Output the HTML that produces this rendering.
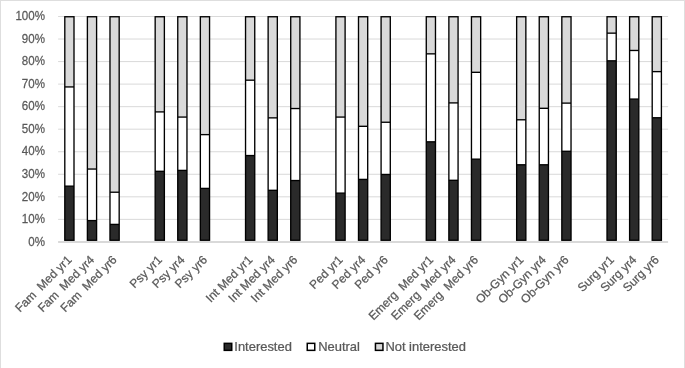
<!DOCTYPE html>
<html><head><meta charset="utf-8"><style>
html,body{margin:0;padding:0;background:#fff;}
svg{display:block;will-change:transform;}
text{font-family:"Liberation Sans",sans-serif;font-size:12.5px;fill:#595959;stroke:#595959;stroke-width:0.25px;}
.xl{font-size:12px;}
.yl{font-size:13px;}
.lg{font-size:12.5px;}
</style></head><body>
<svg width="685" height="368" viewBox="0 0 685 368">
<rect x="0" y="0" width="685" height="368" fill="#fff"/>
<rect x="0.5" y="0.5" width="684" height="370" fill="none" stroke="#dedede" stroke-width="1"/>
<line x1="58.1" x2="668.1" y1="219.36" y2="219.36" stroke="#d9d9d9" stroke-width="1"/><line x1="58.1" x2="668.1" y1="196.82" y2="196.82" stroke="#d9d9d9" stroke-width="1"/><line x1="58.1" x2="668.1" y1="174.28" y2="174.28" stroke="#d9d9d9" stroke-width="1"/><line x1="58.1" x2="668.1" y1="151.74" y2="151.74" stroke="#d9d9d9" stroke-width="1"/><line x1="58.1" x2="668.1" y1="129.20" y2="129.20" stroke="#d9d9d9" stroke-width="1"/><line x1="58.1" x2="668.1" y1="106.66" y2="106.66" stroke="#d9d9d9" stroke-width="1"/><line x1="58.1" x2="668.1" y1="84.12" y2="84.12" stroke="#d9d9d9" stroke-width="1"/><line x1="58.1" x2="668.1" y1="61.58" y2="61.58" stroke="#d9d9d9" stroke-width="1"/><line x1="58.1" x2="668.1" y1="39.04" y2="39.04" stroke="#d9d9d9" stroke-width="1"/><line x1="58.1" x2="668.1" y1="16.50" y2="16.50" stroke="#d9d9d9" stroke-width="1"/>
<line x1="58.1" x2="668.1" y1="242" y2="242" stroke="#d9d9d9" stroke-width="2"/>
<rect x="64.80" y="16.75" width="9.2" height="70.18" fill="#d9d9d9"/><rect x="64.80" y="86.93" width="9.2" height="99.22" fill="#ffffff"/><rect x="64.80" y="186.15" width="9.2" height="54.10" fill="#2a2a2a"/><rect x="64.80" y="16.75" width="9.2" height="223.50" fill="none" stroke="#000" stroke-width="1.35"/><line x1="64.80" x2="74.00" y1="86.93" y2="86.93" stroke="#000" stroke-width="1.35"/><line x1="64.80" x2="74.00" y1="186.15" y2="186.15" stroke="#000" stroke-width="1.35"/><rect x="87.39" y="16.75" width="9.2" height="152.30" fill="#d9d9d9"/><rect x="87.39" y="169.05" width="9.2" height="51.52" fill="#ffffff"/><rect x="87.39" y="220.57" width="9.2" height="19.68" fill="#2a2a2a"/><rect x="87.39" y="16.75" width="9.2" height="223.50" fill="none" stroke="#000" stroke-width="1.35"/><line x1="87.39" x2="96.59" y1="169.05" y2="169.05" stroke="#000" stroke-width="1.35"/><line x1="87.39" x2="96.59" y1="220.57" y2="220.57" stroke="#000" stroke-width="1.35"/><rect x="109.98" y="16.75" width="9.2" height="175.47" fill="#d9d9d9"/><rect x="109.98" y="192.22" width="9.2" height="32.18" fill="#ffffff"/><rect x="109.98" y="224.40" width="9.2" height="15.85" fill="#2a2a2a"/><rect x="109.98" y="16.75" width="9.2" height="223.50" fill="none" stroke="#000" stroke-width="1.35"/><line x1="109.98" x2="119.18" y1="192.22" y2="192.22" stroke="#000" stroke-width="1.35"/><line x1="109.98" x2="119.18" y1="224.40" y2="224.40" stroke="#000" stroke-width="1.35"/><rect x="155.17" y="16.75" width="9.2" height="95.15" fill="#d9d9d9"/><rect x="155.17" y="111.90" width="9.2" height="59.40" fill="#ffffff"/><rect x="155.17" y="171.30" width="9.2" height="68.95" fill="#2a2a2a"/><rect x="155.17" y="16.75" width="9.2" height="223.50" fill="none" stroke="#000" stroke-width="1.35"/><line x1="155.17" x2="164.37" y1="111.90" y2="111.90" stroke="#000" stroke-width="1.35"/><line x1="155.17" x2="164.37" y1="171.30" y2="171.30" stroke="#000" stroke-width="1.35"/><rect x="177.76" y="16.75" width="9.2" height="100.33" fill="#d9d9d9"/><rect x="177.76" y="117.08" width="9.2" height="53.33" fill="#ffffff"/><rect x="177.76" y="170.40" width="9.2" height="69.85" fill="#2a2a2a"/><rect x="177.76" y="16.75" width="9.2" height="223.50" fill="none" stroke="#000" stroke-width="1.35"/><line x1="177.76" x2="186.96" y1="117.08" y2="117.08" stroke="#000" stroke-width="1.35"/><line x1="177.76" x2="186.96" y1="170.40" y2="170.40" stroke="#000" stroke-width="1.35"/><rect x="200.35" y="16.75" width="9.2" height="117.88" fill="#d9d9d9"/><rect x="200.35" y="134.62" width="9.2" height="53.78" fill="#ffffff"/><rect x="200.35" y="188.40" width="9.2" height="51.85" fill="#2a2a2a"/><rect x="200.35" y="16.75" width="9.2" height="223.50" fill="none" stroke="#000" stroke-width="1.35"/><line x1="200.35" x2="209.55" y1="134.62" y2="134.62" stroke="#000" stroke-width="1.35"/><line x1="200.35" x2="209.55" y1="188.40" y2="188.40" stroke="#000" stroke-width="1.35"/><rect x="245.54" y="16.75" width="9.2" height="63.43" fill="#d9d9d9"/><rect x="245.54" y="80.18" width="9.2" height="75.38" fill="#ffffff"/><rect x="245.54" y="155.55" width="9.2" height="84.70" fill="#2a2a2a"/><rect x="245.54" y="16.75" width="9.2" height="223.50" fill="none" stroke="#000" stroke-width="1.35"/><line x1="245.54" x2="254.74" y1="80.18" y2="80.18" stroke="#000" stroke-width="1.35"/><line x1="245.54" x2="254.74" y1="155.55" y2="155.55" stroke="#000" stroke-width="1.35"/><rect x="268.13" y="16.75" width="9.2" height="101.11" fill="#d9d9d9"/><rect x="268.13" y="117.86" width="9.2" height="72.45" fill="#ffffff"/><rect x="268.13" y="190.31" width="9.2" height="49.94" fill="#2a2a2a"/><rect x="268.13" y="16.75" width="9.2" height="223.50" fill="none" stroke="#000" stroke-width="1.35"/><line x1="268.13" x2="277.33" y1="117.86" y2="117.86" stroke="#000" stroke-width="1.35"/><line x1="268.13" x2="277.33" y1="190.31" y2="190.31" stroke="#000" stroke-width="1.35"/><rect x="290.72" y="16.75" width="9.2" height="91.78" fill="#d9d9d9"/><rect x="290.72" y="108.53" width="9.2" height="72.00" fill="#ffffff"/><rect x="290.72" y="180.53" width="9.2" height="59.72" fill="#2a2a2a"/><rect x="290.72" y="16.75" width="9.2" height="223.50" fill="none" stroke="#000" stroke-width="1.35"/><line x1="290.72" x2="299.92" y1="108.53" y2="108.53" stroke="#000" stroke-width="1.35"/><line x1="290.72" x2="299.92" y1="180.53" y2="180.53" stroke="#000" stroke-width="1.35"/><rect x="335.91" y="16.75" width="9.2" height="100.33" fill="#d9d9d9"/><rect x="335.91" y="117.08" width="9.2" height="76.05" fill="#ffffff"/><rect x="335.91" y="193.12" width="9.2" height="47.12" fill="#2a2a2a"/><rect x="335.91" y="16.75" width="9.2" height="223.50" fill="none" stroke="#000" stroke-width="1.35"/><line x1="335.91" x2="345.11" y1="117.08" y2="117.08" stroke="#000" stroke-width="1.35"/><line x1="335.91" x2="345.11" y1="193.12" y2="193.12" stroke="#000" stroke-width="1.35"/><rect x="358.50" y="16.75" width="9.2" height="109.55" fill="#d9d9d9"/><rect x="358.50" y="126.30" width="9.2" height="53.10" fill="#ffffff"/><rect x="358.50" y="179.40" width="9.2" height="60.85" fill="#2a2a2a"/><rect x="358.50" y="16.75" width="9.2" height="223.50" fill="none" stroke="#000" stroke-width="1.35"/><line x1="358.50" x2="367.70" y1="126.30" y2="126.30" stroke="#000" stroke-width="1.35"/><line x1="358.50" x2="367.70" y1="179.40" y2="179.40" stroke="#000" stroke-width="1.35"/><rect x="381.09" y="16.75" width="9.2" height="105.50" fill="#d9d9d9"/><rect x="381.09" y="122.25" width="9.2" height="52.20" fill="#ffffff"/><rect x="381.09" y="174.45" width="9.2" height="65.80" fill="#2a2a2a"/><rect x="381.09" y="16.75" width="9.2" height="223.50" fill="none" stroke="#000" stroke-width="1.35"/><line x1="381.09" x2="390.29" y1="122.25" y2="122.25" stroke="#000" stroke-width="1.35"/><line x1="381.09" x2="390.29" y1="174.45" y2="174.45" stroke="#000" stroke-width="1.35"/><rect x="426.28" y="16.75" width="9.2" height="37.10" fill="#d9d9d9"/><rect x="426.28" y="53.85" width="9.2" height="87.97" fill="#ffffff"/><rect x="426.28" y="141.82" width="9.2" height="98.43" fill="#2a2a2a"/><rect x="426.28" y="16.75" width="9.2" height="223.50" fill="none" stroke="#000" stroke-width="1.35"/><line x1="426.28" x2="435.48" y1="53.85" y2="53.85" stroke="#000" stroke-width="1.35"/><line x1="426.28" x2="435.48" y1="141.82" y2="141.82" stroke="#000" stroke-width="1.35"/><rect x="448.87" y="16.75" width="9.2" height="86.15" fill="#d9d9d9"/><rect x="448.87" y="102.90" width="9.2" height="77.40" fill="#ffffff"/><rect x="448.87" y="180.30" width="9.2" height="59.95" fill="#2a2a2a"/><rect x="448.87" y="16.75" width="9.2" height="223.50" fill="none" stroke="#000" stroke-width="1.35"/><line x1="448.87" x2="458.07" y1="102.90" y2="102.90" stroke="#000" stroke-width="1.35"/><line x1="448.87" x2="458.07" y1="180.30" y2="180.30" stroke="#000" stroke-width="1.35"/><rect x="471.46" y="16.75" width="9.2" height="55.55" fill="#d9d9d9"/><rect x="471.46" y="72.30" width="9.2" height="86.85" fill="#ffffff"/><rect x="471.46" y="159.15" width="9.2" height="81.10" fill="#2a2a2a"/><rect x="471.46" y="16.75" width="9.2" height="223.50" fill="none" stroke="#000" stroke-width="1.35"/><line x1="471.46" x2="480.66" y1="72.30" y2="72.30" stroke="#000" stroke-width="1.35"/><line x1="471.46" x2="480.66" y1="159.15" y2="159.15" stroke="#000" stroke-width="1.35"/><rect x="516.65" y="16.75" width="9.2" height="103.03" fill="#d9d9d9"/><rect x="516.65" y="119.78" width="9.2" height="45.00" fill="#ffffff"/><rect x="516.65" y="164.78" width="9.2" height="75.47" fill="#2a2a2a"/><rect x="516.65" y="16.75" width="9.2" height="223.50" fill="none" stroke="#000" stroke-width="1.35"/><line x1="516.65" x2="525.85" y1="119.78" y2="119.78" stroke="#000" stroke-width="1.35"/><line x1="516.65" x2="525.85" y1="164.78" y2="164.78" stroke="#000" stroke-width="1.35"/><rect x="539.24" y="16.75" width="9.2" height="91.55" fill="#d9d9d9"/><rect x="539.24" y="108.30" width="9.2" height="56.47" fill="#ffffff"/><rect x="539.24" y="164.78" width="9.2" height="75.47" fill="#2a2a2a"/><rect x="539.24" y="16.75" width="9.2" height="223.50" fill="none" stroke="#000" stroke-width="1.35"/><line x1="539.24" x2="548.44" y1="108.30" y2="108.30" stroke="#000" stroke-width="1.35"/><line x1="539.24" x2="548.44" y1="164.78" y2="164.78" stroke="#000" stroke-width="1.35"/><rect x="561.83" y="16.75" width="9.2" height="86.38" fill="#d9d9d9"/><rect x="561.83" y="103.12" width="9.2" height="48.15" fill="#ffffff"/><rect x="561.83" y="151.28" width="9.2" height="88.97" fill="#2a2a2a"/><rect x="561.83" y="16.75" width="9.2" height="223.50" fill="none" stroke="#000" stroke-width="1.35"/><line x1="561.83" x2="571.03" y1="103.12" y2="103.12" stroke="#000" stroke-width="1.35"/><line x1="561.83" x2="571.03" y1="151.28" y2="151.28" stroke="#000" stroke-width="1.35"/><rect x="607.02" y="16.75" width="9.2" height="16.40" fill="#d9d9d9"/><rect x="607.02" y="33.15" width="9.2" height="27.67" fill="#ffffff"/><rect x="607.02" y="60.82" width="9.2" height="179.43" fill="#2a2a2a"/><rect x="607.02" y="16.75" width="9.2" height="223.50" fill="none" stroke="#000" stroke-width="1.35"/><line x1="607.02" x2="616.22" y1="33.15" y2="33.15" stroke="#000" stroke-width="1.35"/><line x1="607.02" x2="616.22" y1="60.82" y2="60.82" stroke="#000" stroke-width="1.35"/><rect x="629.61" y="16.75" width="9.2" height="33.72" fill="#d9d9d9"/><rect x="629.61" y="50.47" width="9.2" height="48.60" fill="#ffffff"/><rect x="629.61" y="99.07" width="9.2" height="141.18" fill="#2a2a2a"/><rect x="629.61" y="16.75" width="9.2" height="223.50" fill="none" stroke="#000" stroke-width="1.35"/><line x1="629.61" x2="638.81" y1="50.47" y2="50.47" stroke="#000" stroke-width="1.35"/><line x1="629.61" x2="638.81" y1="99.07" y2="99.07" stroke="#000" stroke-width="1.35"/><rect x="652.20" y="16.75" width="9.2" height="54.88" fill="#d9d9d9"/><rect x="652.20" y="71.62" width="9.2" height="46.12" fill="#ffffff"/><rect x="652.20" y="117.75" width="9.2" height="122.50" fill="#2a2a2a"/><rect x="652.20" y="16.75" width="9.2" height="223.50" fill="none" stroke="#000" stroke-width="1.35"/><line x1="652.20" x2="661.40" y1="71.62" y2="71.62" stroke="#000" stroke-width="1.35"/><line x1="652.20" x2="661.40" y1="117.75" y2="117.75" stroke="#000" stroke-width="1.35"/>
<text transform="translate(45,245.60) scale(0.89,1)" text-anchor="end" class="yl">0%</text><text transform="translate(45,223.06) scale(0.89,1)" text-anchor="end" class="yl">10%</text><text transform="translate(45,200.52) scale(0.89,1)" text-anchor="end" class="yl">20%</text><text transform="translate(45,177.98) scale(0.89,1)" text-anchor="end" class="yl">30%</text><text transform="translate(45,155.44) scale(0.89,1)" text-anchor="end" class="yl">40%</text><text transform="translate(45,132.90) scale(0.89,1)" text-anchor="end" class="yl">50%</text><text transform="translate(45,110.36) scale(0.89,1)" text-anchor="end" class="yl">60%</text><text transform="translate(45,87.82) scale(0.89,1)" text-anchor="end" class="yl">70%</text><text transform="translate(45,65.28) scale(0.89,1)" text-anchor="end" class="yl">80%</text><text transform="translate(45,42.74) scale(0.89,1)" text-anchor="end" class="yl">90%</text><text transform="translate(45,20.20) scale(0.89,1)" text-anchor="end" class="yl">100%</text>
<text transform="translate(72.40,260.50) rotate(-45)" text-anchor="end" class="xl">Fam&#160; Med yr1</text><text transform="translate(94.99,260.50) rotate(-45)" text-anchor="end" class="xl">Fam&#160; Med yr4</text><text transform="translate(117.58,260.50) rotate(-45)" text-anchor="end" class="xl">Fam&#160; Med yr6</text><text transform="translate(162.77,260.50) rotate(-45)" text-anchor="end" class="xl">Psy yr1</text><text transform="translate(185.36,260.50) rotate(-45)" text-anchor="end" class="xl">Psy yr4</text><text transform="translate(207.95,260.50) rotate(-45)" text-anchor="end" class="xl">Psy yr6</text><text transform="translate(253.14,260.50) rotate(-45)" text-anchor="end" class="xl">Int Med yr1</text><text transform="translate(275.73,260.50) rotate(-45)" text-anchor="end" class="xl">Int Med yr4</text><text transform="translate(298.32,260.50) rotate(-45)" text-anchor="end" class="xl">Int Med yr6</text><text transform="translate(343.51,260.50) rotate(-45)" text-anchor="end" class="xl">Ped yr1</text><text transform="translate(366.10,260.50) rotate(-45)" text-anchor="end" class="xl">Ped yr4</text><text transform="translate(388.69,260.50) rotate(-45)" text-anchor="end" class="xl">Ped yr6</text><text transform="translate(433.88,260.50) rotate(-45)" text-anchor="end" class="xl">Emerg&#160; Med yr1</text><text transform="translate(456.47,260.50) rotate(-45)" text-anchor="end" class="xl">Emerg&#160; Med yr4</text><text transform="translate(479.06,260.50) rotate(-45)" text-anchor="end" class="xl">Emerg&#160; Med yr6</text><text transform="translate(524.25,260.50) rotate(-45)" text-anchor="end" class="xl">Ob-Gyn yr1</text><text transform="translate(546.84,260.50) rotate(-45)" text-anchor="end" class="xl">Ob-Gyn yr4</text><text transform="translate(569.43,260.50) rotate(-45)" text-anchor="end" class="xl">Ob-Gyn yr6</text><text transform="translate(614.62,260.50) rotate(-45)" text-anchor="end" class="xl">Surg yr1</text><text transform="translate(637.21,260.50) rotate(-45)" text-anchor="end" class="xl">Surg yr4</text><text transform="translate(659.80,260.50) rotate(-45)" text-anchor="end" class="xl">Surg yr6</text>

<rect x="224.25" y="343.35" width="7.5" height="7" fill="#2a2a2a" stroke="#000" stroke-width="1.5"/>
<text transform="translate(234.3,350.6) scale(1.035,1)" class="lg">Interested</text>
<rect x="307.25" y="343.35" width="7.5" height="7" fill="#fff" stroke="#000" stroke-width="1.5"/>
<text transform="translate(318.2,350.6) scale(1.035,1)" class="lg">Neutral</text>
<rect x="375.45" y="343.35" width="7.5" height="7" fill="#d9d9d9" stroke="#000" stroke-width="1.5"/>
<text transform="translate(385.4,350.6) scale(1.035,1)" class="lg">Not interested</text>

</svg>
</body></html>
